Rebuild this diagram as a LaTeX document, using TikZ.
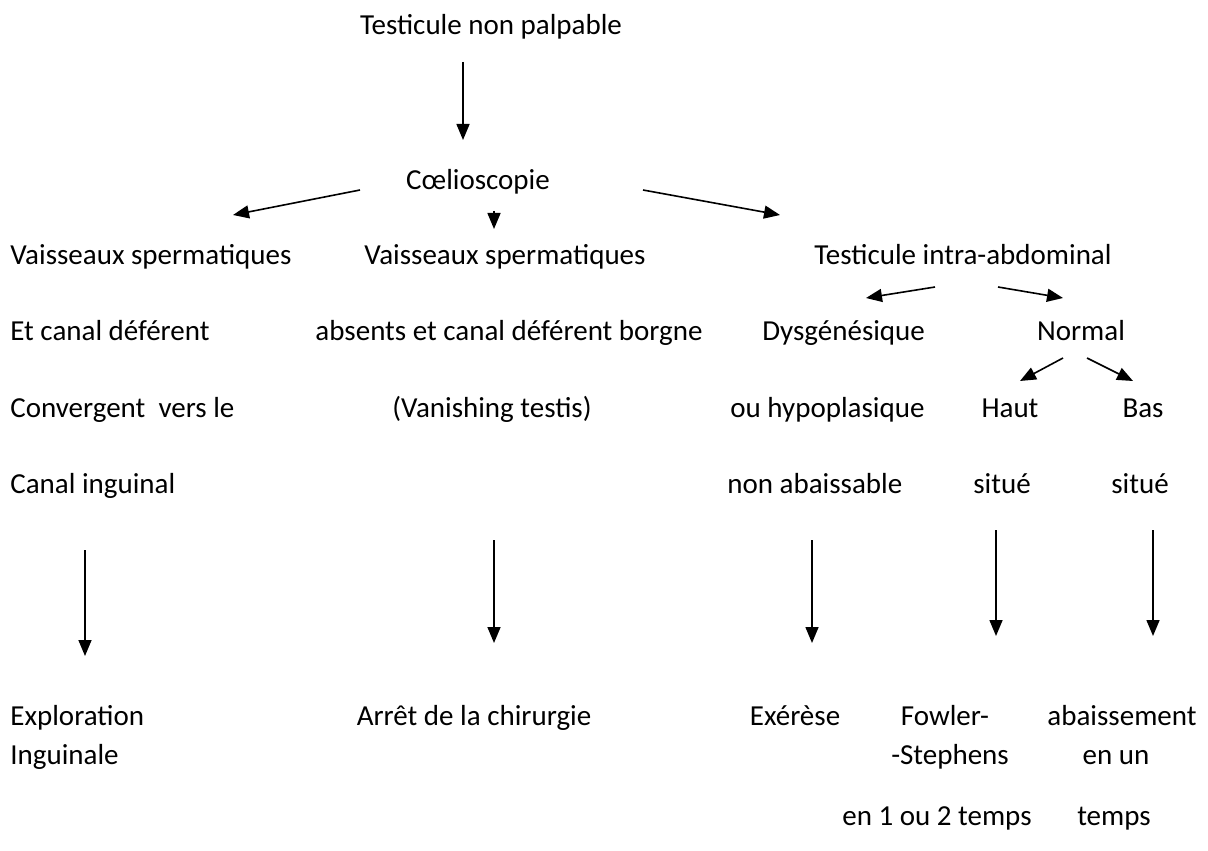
\documentclass[tikz,border=0pt]{standalone}
\usepackage{fontspec}
\setmainfont{Carlito}
\usetikzlibrary{arrows.meta}

\tikzset{
    txt/.style={inner sep=0pt, anchor=west, text height=10pt, text depth=3pt,
        font=\fontsize{14.5}{16}\selectfont},
    ctxt/.style={txt, anchor=center},
    arr/.style={line width=0.8pt, -{Triangle[length=8pt, width=6.5pt]}}
}

\begin{document}
\begin{tikzpicture}[x=0.5pt, y=-0.5pt]
\useasboundingbox (0,0) rectangle (1208,850);

% top
\node[ctxt] (tnp) at (491,28) {Testicule non palpable};
\node[ctxt] (coelio) at (478,183) {Cœlioscopie};

% left column
\node[txt] (lvs) at (10,257) {Vaisseaux spermatiques};
\node[txt] (lcd) at (10,333) {Et canal déférent};
\node[txt] (lconv) at (10,410) {Convergent~ vers le};
\node[txt] (lcanal) at (10,486) {Canal inguinal};
\node[txt] (lexpl) at (10,718) {Exploration};
\node[txt] (lingu) at (10,757) {Inguinale};

% middle column
\node[ctxt] (mvs) at (505,257) {Vaisseaux spermatiques};
\node[ctxt] (mabs) at (509,333) {absents et canal déférent borgne};
\node[ctxt] (mvan) at (492,410) {(Vanishing testis)};
\node[ctxt] (marret) at (474,718) {Arrêt de la chirurgie};

% right column
\node[ctxt] (rtia) at (963,257) {Testicule intra-abdominal};
\node[txt] (rdys) at (762,333) {Dysgénésique};
\node[ctxt] (rnorm) at (1081,333) {Normal};
\node[txt] (rhypo) at (730,410) {ou hypoplasique};
\node[txt] (rnonab) at (727,486) {non abaissable};
\node[ctxt] (rhaut) at (1010,410) {Haut};
\node[ctxt] (rbas) at (1143,410) {Bas};
\node[ctxt] (rsitu1) at (1002,486) {situé};
\node[ctxt] (rsitu2) at (1140,486) {situé};
\node[ctxt] (rexer) at (795,718) {Exérèse};
\node[ctxt] (rfow) at (945,718) {Fowler-};
\node[ctxt] (rsteph) at (950,757) {-Stephens};
\node[ctxt] (rtemps1) at (937,818) {en 1 ou 2 temps};
\node[ctxt] (rabai) at (1122,718) {abaissement};
\node[ctxt] (renun) at (1116,757) {en un};
\node[ctxt] (rtemps2) at (1114,818) {temps};

% arrow ends
\coordinate (a1) at (463,62);   \coordinate (b1) at (463,140);
\coordinate (a2) at (360,190);  \coordinate (b2) at (233,215);
\coordinate (a3) at (494,213);  \coordinate (b3) at (494,229);
\coordinate (a4) at (643,190);  \coordinate (b4) at (780,215);
\coordinate (a5) at (935,287);  \coordinate (b5) at (866,298);
\coordinate (a6) at (998,287);  \coordinate (b6) at (1063,298);
\coordinate (a7) at (1063,358); \coordinate (b7) at (1020,381);
\coordinate (a8) at (1087,358); \coordinate (b8) at (1133,381);
\coordinate (a9) at (85,550);   \coordinate (b9) at (85,656);
\coordinate (a10) at (494,540); \coordinate (b10) at (494,643);
\coordinate (a11) at (812,540); \coordinate (b11) at (812,643);
\coordinate (a12) at (996,530); \coordinate (b12) at (996,636);
\coordinate (a13) at (1153,530);\coordinate (b13) at (1153,636);

\foreach \i in {1,2,4,5,6,7,8,9,10,11,12,13}
    \draw[arr] (a\i) -- (b\i);
\draw[arr, shorten <=-1pt] (a3) -- (b3);
\end{tikzpicture}
\end{document}
